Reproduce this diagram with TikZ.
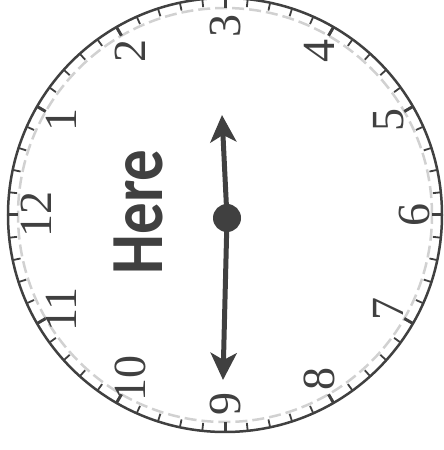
\documentclass[tikz,border=0pt]{standalone}
\usepackage{fontspec}
\newfontfamily\herefont{Carlito}
\newfontfamily\numfont{Liberation Serif}
\usetikzlibrary{arrows.meta}
\definecolor{ink}{HTML}{404040}
\tikzset{
  rim/.style={ink, line width=2.5pt},
  minortick/.style={ink, line width=1.8pt},
  majortick/.style={ink, line width=3pt},
  guide/.style={black!18, line width=2.5pt, dash pattern=on 12pt off 5pt},
  hournum/.style={rotate=90, text=ink, inner sep=0pt, font=\numfont\fontsize{46}{46}\selectfont},
  handline/.style={ink, line width=5pt, -{Stealth[length=27pt, width=26pt, inset=7pt]}},
  hub/.style={circle, fill=ink, minimum size=28pt, inner sep=0pt},
  label/.style={rotate=90, text=ink, inner sep=0pt, font=\herefont\bfseries\fontsize{75}{75}\selectfont}
}
\begin{document}
\begin{tikzpicture}[x=1pt,y=1pt]
\useasboundingbox (0,0) rectangle (444,450);
\clip (0,0) rectangle (444,450);
\begin{scope}[shift={(225,235)}]
  \draw[guide] (0,0) circle (207);
  \foreach \i in {0,...,59} \draw[minortick] (\i*6:217) -- (\i*6:209);
  \foreach \i in {0,...,11} \draw[majortick] (\i*30:217) -- (\i*30:207);
  \draw[rim] (0,0) circle (217);
  \foreach \h in {1,...,12} \node[hournum] (n\h) at ({180-30*\h}:189) {\h};
  \coordinate (tiptop) at (-3,100);
  \coordinate (tipbot) at (-2,-165);
  \node[hub] (hub) at (2,-3) {};
  \draw[handline] (hub.center) -- (tiptop);
  \draw[handline] (hub.center) -- (tipbot);
  \node[label] (here) at (-87,3) {\scalebox{0.84}[1]{Here}};
\end{scope}
\end{tikzpicture}
\end{document}
